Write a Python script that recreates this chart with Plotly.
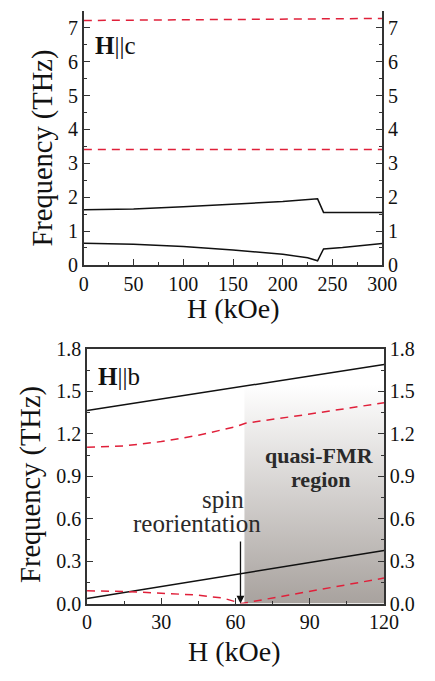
import plotly.graph_objects as go

# ---- H || c panel (field 0-300 kOe) ----
hc_field_upper = [0, 50, 100, 150, 200, 235, 241, 270, 300]
hc_freq_upper = [1.63, 1.65, 1.72, 1.79, 1.87, 1.95, 1.55, 1.55, 1.55]
hc_field_lower = [0, 50, 100, 150, 200, 225, 235, 241, 260, 280, 300]
hc_freq_lower = [0.64, 0.61, 0.54, 0.44, 0.31, 0.21, 0.12, 0.47, 0.51, 0.57, 0.63]
hc_field_flat = [0, 300]
hc_freq_high = [7.22, 7.28]
hc_freq_mid = [3.41, 3.41]

# ---- H || b panel (field 0-120 kOe) ----
hb_field_line = [0, 120]
hb_freq_upper = [1.365, 1.69]
hb_freq_lower = [0.035, 0.375]
hb_field_dash_up = [0, 15, 30, 45, 60, 64, 90, 120]
hb_freq_dash_up = [1.105, 1.115, 1.145, 1.19, 1.25, 1.275, 1.34, 1.42]
hb_field_dash_low = [0, 15, 30, 45, 55, 62.5, 120]
hb_freq_dash_low = [0.09, 0.085, 0.073, 0.059, 0.038, 0.0, 0.18]
fmr_field = [63.6, 120, 120, 63.6]
fmr_freq = [0, 0, 1.55, 1.55]
reorient_field = 62

FONT = "Liberation Serif"
BLACK = "#111111"
RED = "#e0203a"
AX = "#333333"

fig = go.Figure()

# shaded quasi-FMR region
fig.add_trace(go.Scatter(x=fmr_field, y=fmr_freq, xaxis="x2", yaxis="y2",
                         mode="none", fill="toself",
                         fillgradient=dict(type="vertical",
                                           colorscale=[[0, "rgb(168,162,158)"],
                                                       [1, "rgba(255,255,255,1)"]]),
                         hoverinfo="skip", showlegend=False))

solid = dict(color=BLACK, width=1.5)
dashed = dict(color=RED, width=1.5, dash="8px,6px")

fig.add_trace(go.Scatter(x=hc_field_upper, y=hc_freq_upper, mode="lines", line=solid, xaxis="x", yaxis="y"))
fig.add_trace(go.Scatter(x=hc_field_lower, y=hc_freq_lower, mode="lines", line=solid, xaxis="x", yaxis="y"))
fig.add_trace(go.Scatter(x=hc_field_flat, y=hc_freq_high, mode="lines", line=dashed, xaxis="x", yaxis="y"))
fig.add_trace(go.Scatter(x=hc_field_flat, y=hc_freq_mid, mode="lines", line=dashed, xaxis="x", yaxis="y"))

fig.add_trace(go.Scatter(x=hb_field_line, y=hb_freq_upper, mode="lines", line=solid, xaxis="x2", yaxis="y2"))
fig.add_trace(go.Scatter(x=hb_field_line, y=hb_freq_lower, mode="lines", line=solid, xaxis="x2", yaxis="y2"))
fig.add_trace(go.Scatter(x=hb_field_dash_up, y=hb_freq_dash_up, mode="lines", line=dashed, xaxis="x2", yaxis="y2"))
fig.add_trace(go.Scatter(x=hb_field_dash_low, y=hb_freq_dash_low, mode="lines", line=dashed, xaxis="x2", yaxis="y2"))

# invisible traces so the right-hand axes get drawn
fig.add_trace(go.Scatter(x=hc_field_flat, y=hc_freq_mid, mode="lines", line=dict(width=0),
                         opacity=0, xaxis="x", yaxis="y3", hoverinfo="skip"))
fig.add_trace(go.Scatter(x=hb_field_line, y=hb_freq_lower, mode="lines", line=dict(width=0),
                         opacity=0, xaxis="x2", yaxis="y4", hoverinfo="skip"))

tickfont = dict(family=FONT, size=20, color=BLACK)
common = dict(showgrid=False, zeroline=False, showline=True, linecolor=AX, linewidth=1.5,
              ticks="inside", ticklen=6, tickwidth=1.2, tickcolor=AX, tickfont=tickfont)

top_x = [0.190, 0.909]
top_y = [0.6148, 1.0]
bot_x = [0.1977, 0.9133]
bot_y = [0.1009, 0.4871]

fig.update_layout(
    width=435, height=681, margin=dict(l=0, r=0, t=0, b=0),
    paper_bgcolor="white", plot_bgcolor="white", showlegend=False,
    font=dict(family=FONT),
    xaxis=dict(domain=top_x, anchor="y", range=[0, 300], tickvals=[0, 50, 100, 150, 200, 250, 300],
               minor=dict(dtick=25, ticks="inside", ticklen=3, tickcolor=AX), **common),
    yaxis=dict(domain=top_y, anchor="x", range=[0, 7.5], tickvals=[0, 1, 2, 3, 4, 5, 6, 7],
               minor=dict(dtick=0.5, ticks="inside", ticklen=3, tickcolor=AX), **common),
    yaxis3=dict(overlaying="y", side="right", anchor="x", range=[0, 7.5],
                tickvals=[0, 1, 2, 3, 4, 5, 6, 7],
                minor=dict(dtick=0.5, ticks="inside", ticklen=3, tickcolor=AX), **common),
    xaxis2=dict(domain=bot_x, anchor="y2", range=[0, 120], tickvals=[0, 30, 60, 90, 120],
                mirror=True,
                minor=dict(dtick=15, ticks="inside", ticklen=3, tickcolor=AX), **common),
    yaxis2=dict(domain=bot_y, anchor="x2", range=[0, 1.8],
                tickvals=[0, 0.3, 0.6, 0.9, 1.2, 1.5, 1.8], tickformat=".1f",
                minor=dict(dtick=0.15, ticks="inside", ticklen=3, tickcolor=AX), **common),
    yaxis4=dict(overlaying="y2", side="right", anchor="x2", range=[0, 1.8],
                tickvals=[0, 0.3, 0.6, 0.9, 1.2, 1.5, 1.8], tickformat=".1f",
                minor=dict(dtick=0.15, ticks="inside", ticklen=3, tickcolor=AX), **common),
)

axis_title_font = dict(family=FONT, size=28, color=BLACK)
freq_title_font = dict(family=FONT, size=28.5, color=BLACK)

def px_x(v):
    return v / 435

def px_y(v):
    return 1 - v / 681

annotations = [
    dict(text="H (kOe)", x=px_x(239), y=px_y(307), xref="paper", yref="paper",
         showarrow=False, font=axis_title_font, xanchor="center", yanchor="middle"),
    dict(text="H (kOe)", x=px_x(241), y=px_y(662), xref="paper", yref="paper",
         showarrow=False, font=axis_title_font, xanchor="center", yanchor="middle"),
    dict(text="Frequency (THz)", x=px_x(40), y=px_y(142), xref="paper", yref="paper",
         showarrow=False, font=freq_title_font, textangle=-90, xanchor="center", yanchor="middle"),
    dict(text="Frequency (THz)", x=px_x(27), y=px_y(489), xref="paper", yref="paper",
         showarrow=False, font=freq_title_font, textangle=-90, xanchor="center", yanchor="middle"),
    dict(text="<b>H</b>||c", x=px_x(92), y=px_y(36), xref="paper", yref="paper",
         showarrow=False, font=dict(family=FONT, size=25, color=BLACK), xanchor="left", yanchor="middle"),
    dict(text="<b>H</b>||b", x=px_x(95), y=px_y(378), xref="paper", yref="paper",
         showarrow=False, font=dict(family=FONT, size=25, color=BLACK), xanchor="left", yanchor="middle"),
    dict(text="<b>quasi-FMR</b>", x=93.9, y=1.045, xref="x2", yref="y2", showarrow=False,
         font=dict(family=FONT, size=22, color="#2a2a2a"), xanchor="center", yanchor="middle"),
    dict(text="<b>region</b>", x=94.4, y=0.875, xref="x2", yref="y2", showarrow=False,
         font=dict(family=FONT, size=22, color="#2a2a2a"), xanchor="center", yanchor="middle"),
    dict(text="spin", x=55.1, y=0.735, xref="x2", yref="y2", showarrow=False,
         font=dict(family=FONT, size=25, color="#2a2a2a"), xanchor="center", yanchor="middle"),
    dict(text="reorientation", x=44.6, y=0.565, xref="x2", yref="y2", showarrow=False,
         font=dict(family=FONT, size=25, color="#2a2a2a"), xanchor="center", yanchor="middle"),
    dict(text="", x=reorient_field, y=0.0, ax=reorient_field, ay=0.45,
         xref="x2", yref="y2", axref="x2", ayref="y2", showarrow=True,
         arrowhead=2, arrowsize=1.2, arrowwidth=1.3, arrowcolor=BLACK, standoff=0),
]
fig.update_layout(annotations=annotations)

fig.write_html("out.html")
